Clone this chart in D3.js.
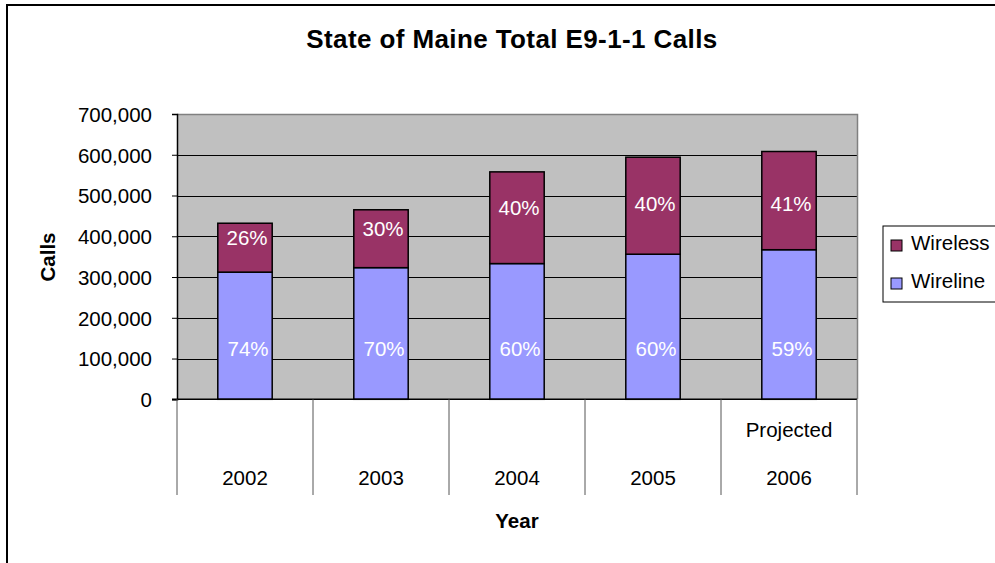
<!DOCTYPE html>
<html>
<head>
<meta charset="utf-8">
<script src="https://cdn.jsdelivr.net/npm/d3@7"></script>
<style>
  html, body { margin: 0; padding: 0; background: #fff; }
  svg { display: block; font-family: "Liberation Sans", Arial, sans-serif; }
</style>
</head>
<body>
<svg id="chart" width="995" height="563"></svg>
<script>
const years = ["2002", "2003", "2004", "2005", "2006"];
const subLabels = ["", "", "", "", "Projected"];
const wireline = [312000, 323000, 333000, 356000, 367000];
const wireless = [120000, 142000, 225000, 238000, 241000];
const wirelinePct = ["74%", "70%", "60%", "60%", "59%"];
const wirelessPct = ["26%", "30%", "40%", "40%", "41%"];
const yTicks = [0, 100000, 200000, 300000, 400000, 500000, 600000, 700000];
const seriesNames = ["Wireless", "Wireline"];
const seriesColors = { Wireless: "#993366", Wireline: "#9999FF" };

const svg = d3.select("#chart");
const W = 995, H = 563;
const plot = { left: 177, right: 857, top: 114, bottom: 399.3 };
const FS = 20.5;

// outer border
svg.append("rect").attr("x", 7).attr("y", 5).attr("width", W + 10).attr("height", H + 10)
  .attr("fill", "#fff").attr("stroke", "#000").attr("stroke-width", 2);

const x = d3.scaleBand().domain(years).range([plot.left, plot.right])
  .paddingInner(0.6).paddingOuter(0.3);
const y = d3.scaleLinear().domain([0, 700000]).range([plot.bottom, plot.top]);

// plot background
svg.append("rect").attr("x", plot.left).attr("y", plot.top)
  .attr("width", plot.right - plot.left).attr("height", plot.bottom - plot.top)
  .attr("fill", "#C0C0C0");

// gridlines
svg.append("g").selectAll("line").data(yTicks.filter(d => d > 0 && d < 700000)).join("line")
  .attr("x1", plot.left).attr("x2", plot.right)
  .attr("y1", d => Math.round(y(d)) + 0.5).attr("y2", d => Math.round(y(d)) + 0.5)
  .attr("stroke", "#000").attr("stroke-width", 1);

// plot border top/right
svg.append("path")
  .attr("d", `M${plot.left},${plot.top + 0.5}H${plot.right + 0.5}V${plot.bottom}`)
  .attr("fill", "none").attr("stroke", "#808080").attr("stroke-width", 1.5);

// y axis
const yAxis = d3.axisLeft(y).tickValues(yTicks).tickSize(5).tickPadding(20)
  .tickFormat(d3.format(","));
const gy = svg.append("g").attr("transform", `translate(${plot.left},0)`).call(yAxis);
gy.select(".domain").attr("stroke", "#000").attr("stroke-width", 1.5);
gy.selectAll(".tick line").attr("stroke", "#000");
gy.selectAll(".tick text").attr("font-size", FS).attr("fill", "#000")
  .attr("font-family", "Liberation Sans, Arial, sans-serif").attr("dy", "0.36em");

// bars
const data = years.map((yr, i) => ({ yr, wl: wireline[i], ws: wireless[i], i }));
const bars = svg.append("g");
bars.selectAll("rect.wl").data(data).join("rect").attr("class", "wl")
  .attr("x", d => x(d.yr)).attr("width", x.bandwidth())
  .attr("y", d => y(d.wl)).attr("height", d => y(0) - y(d.wl))
  .attr("fill", seriesColors.Wireline).attr("stroke", "#000").attr("stroke-width", 1.5);
bars.selectAll("rect.ws").data(data).join("rect").attr("class", "ws")
  .attr("x", d => x(d.yr)).attr("width", x.bandwidth())
  .attr("y", d => y(d.wl + d.ws)).attr("height", d => y(d.wl) - y(d.wl + d.ws))
  .attr("fill", seriesColors.Wireless).attr("stroke", "#000").attr("stroke-width", 1.5);

// x axis line
svg.append("line").attr("x1", plot.left - 5).attr("x2", plot.right)
  .attr("y1", plot.bottom).attr("y2", plot.bottom).attr("stroke", "#000").attr("stroke-width", 1.5);

// category separators
const sepX = years.map(yr => x(yr) + x.bandwidth() / 2 - x.step() / 2).concat([plot.right]);
svg.append("g").selectAll("line").data(sepX).join("line")
  .attr("x1", d => d).attr("x2", d => d).attr("y1", plot.bottom).attr("y2", 495)
  .attr("stroke", "#555").attr("stroke-width", 1);

// category labels
svg.append("g").selectAll("text").data(years).join("text")
  .attr("x", d => x(d) + x.bandwidth() / 2).attr("y", 485)
  .attr("text-anchor", "middle").attr("font-size", FS).text(d => d);
svg.append("g").selectAll("text").data(years.map((yr, i) => ({ yr, s: subLabels[i] }))).join("text")
  .attr("x", d => x(d.yr) + x.bandwidth() / 2).attr("y", 437)
  .attr("text-anchor", "middle").attr("font-size", FS).text(d => d.s);

// data labels
svg.append("g").selectAll("text").data(data).join("text")
  .attr("x", d => x(d.yr) + x.bandwidth() / 2 + 3)
  .attr("y", d => y(0) - 51)
  .attr("dy", "0.36em").attr("text-anchor", "middle").attr("fill", "#fff")
  .attr("font-size", FS).text(d => wirelinePct[d.i]);
svg.append("g").selectAll("text").data(data).join("text")
  .attr("x", d => x(d.yr) + x.bandwidth() / 2 + 2)
  .attr("y", d => Math.max((y(d.wl) + y(d.wl + d.ws)) / 2 - 10, y(480000)))
  .attr("dy", "0.36em").attr("text-anchor", "middle").attr("fill", "#fff")
  .attr("font-size", FS).text(d => wirelessPct[d.i]);

// title
svg.append("text").attr("x", 512).attr("y", 48).attr("text-anchor", "middle")
  .attr("font-size", 26).attr("font-weight", "bold").attr("letter-spacing", 0.4)
  .text("State of Maine Total E9-1-1 Calls");

// axis titles
svg.append("text").attr("transform", "translate(55,257) rotate(-90)")
  .attr("text-anchor", "middle").attr("font-size", 20.5).attr("font-weight", "bold").text("Calls");
svg.append("text").attr("x", 517).attr("y", 528).attr("text-anchor", "middle")
  .attr("font-size", 20.5).attr("font-weight", "bold").text("Year");

// legend
const lg = svg.append("g");
lg.append("rect").attr("x", 883).attr("y", 226).attr("width", 130).attr("height", 76)
  .attr("fill", "#fff").attr("stroke", "#000").attr("stroke-width", 1);
const legendRows = lg.selectAll("g").data(seriesNames).join("g")
  .attr("transform", (d, i) => `translate(0,${i * 38})`);
legendRows.append("rect").attr("x", 891).attr("y", 240).attr("width", 11).attr("height", 11)
  .attr("fill", d => seriesColors[d]).attr("stroke", "#000").attr("stroke-width", 1);
legendRows.append("text").attr("x", 911).attr("y", 250).attr("font-size", FS).text(d => d);
</script>
</body>
</html>
